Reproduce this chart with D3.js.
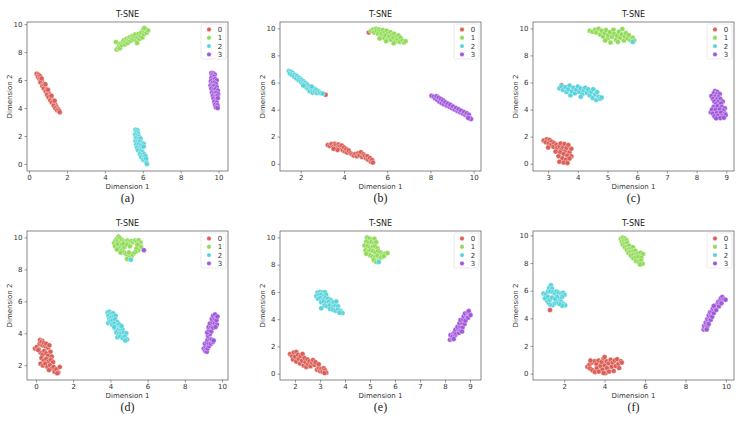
<!DOCTYPE html>
<html>
<head>
<meta charset="utf-8">
<script src="https://d3js.org/d3.v7.min.js"></script>
<style>
  html, body { margin: 0; padding: 0; background: #fff; }
  svg { display: block; }
  .tick text { font-family: "DejaVu Sans", sans-serif; font-size: 7px; fill: #333; }
</style>
</head>
<body>
<div id="chart"></div>
<script>
// ---- data ----
const classNames = ["0", "1", "2", "3"];
const classColors = ["#db5f57", "#91db57", "#57d3db", "#a157db"];
const captions = ["(a)", "(b)", "(c)", "(d)", "(e)", "(f)"];

const xLimits = [[-0.11, 10.5], [1.04, 10.34], [2.49, 9.26], [-0.48, 10.32], [1.4, 9.44], [0.46, 10.4]];
const yLimits = [[-0.5, 10.15], [-0.54, 10.47], [-0.54, 10.47], [1.08, 10.4], [-0.46, 10.47], [-0.46, 10.32]];
const xTickVals = [[0, 2, 4, 6, 8, 10], [2, 4, 6, 8, 10], [3, 4, 5, 6, 7, 8, 9], [0, 2, 4, 6, 8, 10], [2, 3, 4, 5, 6, 7, 8, 9], [2, 4, 6, 8, 10]];
const yTickVals = [[0, 2, 4, 6, 8, 10], [0, 2, 4, 6, 8, 10], [0, 2, 4, 6, 8, 10], [2, 4, 6, 8, 10], [0, 2, 4, 6, 8, 10], [0, 2, 4, 6, 8, 10]];

// panel (a)
const pa0 = [[0.40,6.45],[0.50,6.38],[0.47,6.22],[0.58,6.28],[0.55,6.08],[0.63,6.00],[0.68,5.88],[0.60,5.85],[0.74,5.72],[0.70,5.58],[0.80,5.62],[0.85,5.45],[0.78,5.40],[0.92,5.32],[0.88,5.18],[0.98,5.10],[1.05,5.02],[0.95,4.95],[1.10,4.85],[1.03,4.78],[1.15,4.70],[1.22,4.62],[1.12,4.55],[1.28,4.50],[1.20,4.40],[1.33,4.35],[1.40,4.22],[1.30,4.18],[1.45,4.08],[1.38,4.00],[1.52,3.95],[1.48,3.85],[1.58,3.82],[1.62,3.70],[0.66,6.12],[0.86,5.70],[1.00,5.30],[1.18,4.88],[1.35,4.52]];
const pa1 = [[4.58,8.72],[4.62,8.18],[4.70,8.30],[4.75,8.45],[4.82,8.60],[4.80,8.28],[4.90,8.50],[4.95,8.70],[5.00,8.85],[5.05,8.55],[5.10,8.75],[5.15,8.95],[5.20,8.65],[5.25,8.88],[5.30,9.05],[5.35,8.80],[5.40,9.00],[5.45,9.15],[5.50,8.90],[5.55,9.10],[5.60,9.25],[5.65,8.85],[5.70,8.65],[5.72,9.05],[5.78,9.30],[5.82,8.95],[5.88,9.15],[5.92,9.40],[5.98,9.05],[6.02,9.60],[6.05,9.28],[6.10,9.48],[6.15,9.65],[6.20,9.38],[6.28,9.55],[6.08,9.72]];
const pa2 = [[5.62,2.45],[5.72,2.42],[5.66,2.28],[5.75,2.20],[5.60,2.10],[5.70,2.02],[5.80,1.95],[5.64,1.85],[5.76,1.78],[5.88,1.82],[5.62,1.62],[5.72,1.58],[5.84,1.62],[5.96,1.50],[6.05,1.45],[5.66,1.40],[5.78,1.38],[5.90,1.30],[5.70,1.18],[5.82,1.12],[5.95,1.15],[6.05,1.25],[5.75,0.98],[5.88,0.92],[5.98,0.85],[5.85,0.72],[5.96,0.65],[6.08,0.70],[5.92,0.50],[6.04,0.45],[6.15,0.55],[6.02,0.30],[6.12,0.25],[6.18,0.38],[6.20,0.10],[6.22,0.00]];
const pa3 = [[9.62,6.50],[9.72,6.48],[9.80,6.40],[9.66,6.32],[9.76,6.25],[9.62,6.15],[9.70,6.05],[9.82,6.08],[9.90,5.98],[9.60,5.92],[9.68,5.80],[9.78,5.82],[9.86,5.72],[9.58,5.62],[9.66,5.52],[9.76,5.58],[9.90,5.50],[9.62,5.38],[9.72,5.30],[9.84,5.35],[9.96,5.25],[9.66,5.12],[9.76,5.05],[9.88,5.10],[9.98,5.00],[9.70,4.88],[9.82,4.82],[9.94,4.85],[9.74,4.68],[9.86,4.62],[9.96,4.70],[9.78,4.45],[9.90,4.40],[9.82,4.25],[9.94,4.20],[9.86,4.05],[9.95,4.00]];

// panel (b)
const pb0 = [[3.25,1.38],[3.35,1.30],[3.42,1.45],[3.50,1.25],[3.58,1.48],[3.62,1.35],[3.68,1.18],[3.75,1.42],[3.80,1.28],[3.85,1.10],[3.90,1.35],[3.95,1.00],[4.00,1.20],[4.05,0.90],[4.10,1.08],[4.15,0.82],[4.22,0.98],[4.30,0.78],[4.38,0.70],[4.45,0.60],[4.52,0.72],[4.60,0.55],[4.66,0.78],[4.72,0.62],[4.78,0.85],[4.84,0.50],[4.90,0.70],[4.96,0.58],[5.02,0.40],[5.08,0.55],[5.12,0.30],[5.20,0.42],[5.25,0.15],[5.30,0.28],[5.34,0.08],[3.70,1.02],[3.52,1.10],[3.15,5.10],[5.15,9.70]];
const pb1 = [[5.25,9.80],[5.35,9.92],[5.40,9.70],[5.48,9.98],[5.52,9.82],[5.58,9.60],[5.62,9.92],[5.68,9.75],[5.72,9.45],[5.75,9.62],[5.80,9.88],[5.85,9.30],[5.88,9.70],[5.92,9.50],[5.98,9.82],[6.02,9.20],[6.05,9.62],[6.10,9.40],[6.15,9.72],[6.18,9.15],[6.22,9.52],[6.28,9.32],[6.32,9.60],[6.38,9.05],[6.42,9.40],[6.48,9.20],[6.52,9.48],[6.58,9.00],[6.62,9.30],[6.70,9.10],[6.78,8.95],[6.85,9.05],[5.65,9.25],[5.95,9.05],[6.30,8.90]];
const pb2 = [[1.45,6.85],[1.55,6.80],[1.50,6.65],[1.62,6.70],[1.60,6.55],[1.72,6.58],[1.70,6.42],[1.82,6.48],[1.80,6.30],[1.92,6.35],[1.90,6.18],[2.02,6.22],[2.00,6.05],[2.12,6.10],[2.08,5.92],[2.20,5.98],[2.18,5.80],[2.30,5.85],[2.26,5.65],[2.38,5.72],[2.35,5.50],[2.45,5.58],[2.42,5.35],[2.52,5.42],[2.55,5.25],[2.62,5.55],[2.65,5.32],[2.72,5.45],[2.75,5.22],[2.82,5.35],[2.88,5.25],[2.95,5.20],[3.02,5.18],[2.50,5.70],[2.12,5.78]];
const pb3 = [[8.05,5.02],[8.15,4.95],[8.22,4.82],[8.28,4.98],[8.32,4.70],[8.38,4.88],[8.42,4.58],[8.48,4.78],[8.52,4.48],[8.58,4.68],[8.62,4.40],[8.68,4.55],[8.75,4.30],[8.80,4.45],[8.88,4.20],[8.92,4.35],[9.00,4.10],[9.05,4.22],[9.12,4.00],[9.18,4.12],[9.25,3.90],[9.30,4.02],[9.38,3.80],[9.42,3.92],[9.50,3.70],[9.55,3.82],[9.62,3.60],[9.68,3.72],[9.72,3.50],[9.78,3.62],[9.82,3.40],[9.88,3.30],[9.75,3.38]];

// panel (c)
const pc0 = [[2.85,1.72],[2.95,1.80],[2.92,1.58],[3.05,1.75],[3.02,1.50],[3.12,1.62],[3.10,1.38],[3.20,1.52],[3.18,1.25],[3.28,1.40],[3.30,1.15],[3.38,1.30],[3.42,1.50],[3.45,1.05],[3.50,1.25],[3.55,1.45],[3.58,0.95],[3.62,1.18],[3.68,1.38],[3.72,0.85],[3.78,1.10],[3.40,0.85],[3.52,0.72],[3.65,0.60],[3.78,0.55],[3.35,0.55],[3.48,0.40],[3.60,0.30],[3.72,0.38],[3.38,0.15],[3.52,0.08],[3.65,0.05],[3.25,0.90],[3.00,1.20],[3.45,5.80]];
const pc1 = [[4.40,9.82],[4.50,9.75],[4.58,9.90],[4.62,9.70],[4.70,9.98],[4.75,9.55],[4.80,9.82],[4.85,9.40],[4.90,9.65],[4.95,9.88],[5.00,9.25],[5.02,9.50],[5.08,9.72],[5.10,8.95],[5.15,9.38],[5.20,9.90],[5.22,9.60],[5.28,9.15],[5.32,9.45],[5.38,9.75],[5.42,9.30],[5.48,9.55],[5.50,9.95],[5.55,9.10],[5.58,9.40],[5.62,9.65],[5.68,9.25],[5.72,9.50],[5.78,9.12],[5.85,9.30],[5.90,9.10],[4.92,9.10],[5.35,9.00]];
const pc2 = [[3.38,5.58],[3.45,5.72],[3.50,5.45],[3.58,5.65],[3.62,5.30],[3.68,5.50],[3.72,5.78],[3.75,5.05],[3.80,5.35],[3.85,5.62],[3.90,5.20],[3.95,5.48],[4.00,5.70],[4.05,5.30],[4.10,5.55],[4.15,5.15],[4.20,5.42],[4.25,5.62],[4.30,5.25],[4.35,5.50],[4.40,5.05],[4.45,5.32],[4.50,4.85],[4.52,5.50],[4.58,5.12],[4.62,4.70],[4.65,5.30],[4.70,4.95],[4.75,4.80],[4.80,4.90],[4.10,4.95],[5.85,9.00]];
const pc3 = [[8.62,5.38],[8.70,5.30],[8.58,5.20],[8.68,5.12],[8.78,5.15],[8.50,5.00],[8.62,4.95],[8.74,4.92],[8.55,4.80],[8.68,4.75],[8.80,4.78],[8.88,4.60],[8.60,4.60],[8.72,4.55],[8.82,4.45],[8.65,4.40],[8.48,3.80],[8.58,4.20],[8.70,4.25],[8.85,4.20],[8.95,4.10],[8.52,4.00],[8.64,3.98],[8.78,4.02],[8.90,3.92],[8.55,3.70],[8.68,3.75],[8.82,3.78],[8.96,3.70],[8.60,3.50],[8.72,3.55],[8.86,3.52],[8.98,3.60],[8.66,3.35],[8.80,3.38],[8.92,3.40]];

// panel (d)
const pd0 = [[-0.05,3.05],[0.05,3.15],[0.15,3.00],[0.20,3.35],[0.22,3.58],[0.35,3.52],[0.28,3.45],[0.35,3.25],[0.42,3.40],[0.50,3.20],[0.55,3.35],[0.65,3.10],[0.72,3.25],[0.25,2.80],[0.35,2.65],[0.45,2.90],[0.55,2.75],[0.65,2.60],[0.78,2.85],[0.85,2.55],[0.30,2.45],[0.42,2.30],[0.55,2.40],[0.68,2.25],[0.80,2.35],[0.92,2.20],[0.25,2.10],[0.38,1.98],[0.50,2.10],[0.62,1.90],[0.75,2.00],[0.85,1.80],[0.95,1.90],[0.70,1.70],[1.00,1.60],[1.10,1.75],[1.20,1.55],[1.28,1.90],[1.15,1.50],[0.12,2.95]];
const pd1 = [[4.20,9.65],[4.28,9.80],[4.25,9.45],[4.35,9.92],[4.44,10.05],[4.42,9.80],[4.52,9.95],[4.55,9.70],[4.62,9.85],[4.72,9.75],[4.82,9.70],[4.92,9.80],[5.02,9.72],[5.12,9.78],[5.22,9.70],[5.32,9.80],[5.42,9.75],[5.52,9.82],[5.62,9.68],[5.55,9.50],[5.65,9.40],[5.50,9.20],[5.40,9.30],[5.35,9.10],[5.25,9.00],[5.15,8.85],[5.05,8.70],[4.95,8.80],[4.85,8.95],[4.75,9.05],[4.65,9.15],[4.55,9.30],[4.45,9.40],[4.35,9.25],[4.40,9.58],[4.60,9.55],[4.75,9.40],[4.70,9.60],[4.90,9.55],[5.05,9.45],[4.55,9.05],[5.45,9.55],[5.00,9.05],[4.90,8.65]];
const pd2 = [[3.85,5.30],[3.95,5.35],[3.90,5.10],[4.05,5.22],[4.15,5.25],[3.95,4.90],[4.05,5.00],[4.18,5.05],[4.28,5.10],[3.88,4.65],[4.00,4.75],[4.12,4.82],[4.25,4.88],[4.38,4.70],[4.10,4.55],[4.22,4.60],[4.35,4.48],[4.48,4.55],[4.55,4.38],[4.25,4.30],[4.40,4.20],[4.52,4.15],[4.65,4.25],[4.32,4.05],[4.45,3.95],[4.58,4.00],[4.72,4.05],[4.85,4.00],[4.38,3.75],[4.52,3.80],[4.65,3.70],[4.78,3.80],[4.90,3.62],[4.80,3.55],[4.60,4.45],[4.20,4.40],[5.10,8.60]];
const pd3 = [[9.02,3.05],[9.10,2.90],[9.18,2.85],[9.12,3.18],[9.22,3.05],[9.30,3.20],[9.08,3.35],[9.18,3.45],[9.28,3.38],[9.40,3.35],[9.50,3.45],[9.22,3.62],[9.32,3.70],[9.45,3.60],[9.25,3.85],[9.35,3.95],[9.20,4.05],[9.30,4.20],[9.42,4.12],[9.28,4.40],[9.40,4.45],[9.52,4.35],[9.35,4.62],[9.48,4.70],[9.60,4.62],[9.72,4.55],[9.45,4.90],[9.58,4.95],[9.70,4.82],[9.52,5.10],[9.62,5.18],[9.75,5.05],[9.65,4.40],[9.55,3.55],[5.80,9.20]];

// panel (e)
const pe0 = [[1.80,1.45],[1.88,1.30],[1.95,1.55],[1.92,1.05],[2.00,1.25],[2.05,1.60],[2.05,0.90],[2.12,1.40],[2.15,1.10],[2.20,0.75],[2.22,1.30],[2.28,0.95],[2.30,1.45],[2.35,0.60],[2.38,1.15],[2.42,0.85],[2.45,0.50],[2.50,1.05],[2.52,0.70],[2.58,0.90],[2.62,0.55],[2.68,0.80],[2.72,1.00],[2.78,0.65],[2.82,0.85],[2.88,0.30],[2.95,0.45],[3.00,0.20],[3.05,0.35],[3.10,0.15],[3.15,0.40],[3.20,0.25],[3.25,0.08],[3.18,0.05],[2.95,0.70]];
const pe1 = [[4.88,10.00],[4.98,9.92],[5.08,9.85],[5.18,9.90],[4.85,9.70],[4.95,9.60],[5.05,9.65],[5.15,9.55],[5.25,9.65],[4.78,9.40],[4.90,9.35],[5.00,9.25],[5.10,9.30],[5.20,9.35],[5.30,9.20],[4.82,9.05],[4.92,8.95],[5.02,9.05],[5.12,9.00],[5.22,8.90],[5.32,9.00],[5.42,8.90],[5.50,8.75],[5.60,8.80],[5.70,8.85],[5.00,8.70],[5.10,8.60],[5.20,8.55],[5.30,8.65],[5.40,8.50],[5.15,8.35],[5.25,8.20],[5.35,8.30],[5.45,8.55],[5.55,8.62],[4.85,8.80]];
const pe2 = [[2.90,5.95],[3.00,6.00],[3.10,5.95],[3.20,5.98],[2.85,5.70],[2.95,5.75],[3.05,5.80],[3.15,5.72],[3.25,5.78],[2.92,5.50],[3.02,5.55],[3.12,5.45],[3.22,5.55],[3.32,5.50],[3.42,5.40],[3.05,5.25],[3.15,5.30],[3.25,5.20],[3.35,5.28],[3.45,5.15],[3.55,5.25],[3.18,5.00],[3.28,4.95],[3.38,5.00],[3.50,4.90],[3.62,5.00],[3.72,4.95],[3.40,4.75],[3.52,4.70],[3.62,4.62],[3.72,4.72],[3.82,4.60],[3.90,4.45],[3.78,4.48],[3.05,4.80],[3.65,5.30],[5.35,8.20]];
const pe3 = [[8.20,2.50],[8.28,2.60],[8.22,2.85],[8.32,2.90],[8.30,2.72],[8.40,2.80],[8.38,3.05],[8.48,3.10],[8.45,2.95],[8.55,3.00],[8.42,3.25],[8.52,3.30],[8.62,3.20],[8.50,3.45],[8.60,3.50],[8.70,3.40],[8.58,3.70],[8.68,3.75],[8.78,3.65],[8.62,3.95],[8.72,4.00],[8.82,3.90],[8.75,4.20],[8.85,4.25],[8.92,4.10],[8.80,4.42],[8.90,4.50],[8.98,4.40],[8.95,4.60],[9.02,4.30],[8.68,3.10],[8.35,2.55]];

// panel (f)
const pf0 = [[3.15,0.50],[3.25,0.65],[3.28,0.38],[3.38,0.80],[3.40,0.25],[3.50,0.90],[3.52,0.12],[3.60,0.70],[3.62,0.40],[3.70,0.95],[3.72,0.15],[3.80,0.55],[3.85,0.85],[3.90,0.30],[3.95,1.10],[4.00,0.60],[4.05,0.05],[4.10,0.90],[4.12,0.40],[4.20,0.75],[4.22,0.15],[4.30,1.00],[4.35,0.50],[4.40,0.80],[4.45,0.20],[4.50,0.95],[4.55,0.55],[4.62,1.05],[4.68,0.70],[4.72,0.40],[4.80,0.90],[4.85,0.80],[3.30,0.95],[4.00,1.20],[3.95,0.05],[1.30,4.60]];
const pf1 = [[4.80,9.75],[4.90,9.85],[5.00,9.78],[4.85,9.55],[4.95,9.60],[5.08,9.65],[4.90,9.35],[5.02,9.40],[5.12,9.45],[5.00,9.15],[5.12,9.20],[5.22,9.25],[5.10,8.95],[5.22,9.00],[5.32,9.05],[5.40,9.15],[5.18,8.75],[5.30,8.80],[5.42,8.85],[5.52,8.90],[5.30,8.55],[5.42,8.60],[5.55,8.65],[5.65,8.70],[5.78,8.75],[5.90,8.65],[5.42,8.35],[5.55,8.40],[5.68,8.45],[5.82,8.40],[5.55,8.15],[5.68,8.10],[5.80,8.20],[5.88,7.95],[5.75,7.90]];
const pf2 = [[0.98,5.80],[1.10,5.75],[1.20,5.95],[1.25,6.20],[1.35,6.40],[1.40,6.15],[1.32,5.95],[1.45,5.90],[1.55,5.80],[1.62,5.95],[1.72,5.85],[1.85,5.80],[1.95,5.85],[2.02,5.70],[1.90,5.55],[1.80,5.40],[1.72,5.25],[1.85,5.20],[1.95,5.05],[2.05,4.95],[1.90,4.92],[1.75,5.05],[1.60,5.15],[1.50,5.05],[1.42,4.95],[1.30,5.00],[1.22,5.15],[1.15,5.30],[1.05,5.45],[1.20,5.55],[1.30,5.35],[1.65,5.55],[1.40,5.50],[1.55,5.40]];
const pf3 = [[8.90,3.20],[8.98,3.30],[8.92,3.45],[9.02,3.50],[9.08,3.40],[9.00,3.70],[9.10,3.75],[9.15,3.60],[9.08,3.95],[9.18,4.00],[9.25,3.90],[9.15,4.20],[9.25,4.25],[9.32,4.12],[9.22,4.45],[9.32,4.50],[9.40,4.38],[9.35,4.70],[9.45,4.75],[9.52,4.60],[9.48,4.95],[9.58,5.00],[9.65,4.88],[9.62,5.20],[9.72,5.25],[9.78,5.10],[9.75,5.45],[9.82,5.55],[9.90,5.38],[9.98,5.35],[9.05,3.20],[9.40,4.90]];

const panelData = [[pa0, pa1, pa2, pa3], [pb0, pb1, pb2, pb3], [pc0, pc1, pc2, pc3], [pd0, pd1, pd2, pd3], [pe0, pe1, pe2, pe3], [pf0, pf1, pf2, pf3]];

// ---- layout ----
const W = 742, H = 428;
const colLeft = [27, 280, 533];
const rowTop = [22, 231];
const axW = 201, axH = 149;

const svg = d3.select("#chart").append("svg")
  .attr("width", W).attr("height", H)
  .attr("viewBox", [0, 0, W, H]);

panelData.forEach((clusters, i) => {
  const left = colLeft[i % 3], top = rowTop[Math.floor(i / 3)];
  const g = svg.append("g").attr("transform", `translate(${left},${top})`);

  const x = d3.scaleLinear().domain(xLimits[i]).range([0, axW]);
  const y = d3.scaleLinear().domain(yLimits[i]).range([axH, 0]);

  // points
  clusters.forEach((pts, k) => {
    g.append("g").selectAll("circle")
      .data(pts)
      .join("circle")
      .attr("cx", d => x(d[0]))
      .attr("cy", d => y(d[1]))
      .attr("r", 2.5)
      .attr("fill", classColors[k])
      .attr("stroke", "#fff")
      .attr("stroke-width", 0.35);
  });

  // axes
  const ax = g.append("g")
    .attr("transform", `translate(0,${axH})`)
    .call(d3.axisBottom(x).tickValues(xTickVals[i]).tickFormat(d3.format("d")).tickSize(2.5).tickPadding(2));
  const ay = g.append("g")
    .call(d3.axisLeft(y).tickValues(yTickVals[i]).tickFormat(d3.format("d")).tickSize(2.5).tickPadding(2));
  [ax, ay].forEach(a => {
    a.select(".domain").remove();
    a.selectAll(".tick line").attr("stroke", "#555").attr("stroke-width", 0.6);
  });

  // frame
  g.append("rect")
    .attr("width", axW).attr("height", axH)
    .attr("fill", "none").attr("stroke", "#555").attr("stroke-width", 0.7);

  // labels
  g.append("text")
    .attr("x", axW / 2).attr("y", -5)
    .attr("text-anchor", "middle")
    .style("font-family", "DejaVu Sans, sans-serif").style("font-size", "8px").attr("fill", "#222")
    .text("T-SNE");
  g.append("text")
    .attr("x", axW / 2).attr("y", axH + 18)
    .attr("text-anchor", "middle")
    .style("font-family", "DejaVu Sans, sans-serif").style("font-size", "7px").attr("fill", "#333")
    .text("Dimension 1");
  g.append("text")
    .attr("transform", `translate(-15,${axH / 2}) rotate(-90)`)
    .attr("text-anchor", "middle")
    .style("font-family", "DejaVu Sans, sans-serif").style("font-size", "7px").attr("fill", "#333")
    .text("Dimension 2");
  g.append("text")
    .attr("x", axW / 2).attr("y", axH + 31)
    .attr("text-anchor", "middle")
    .style("font-family", "Liberation Serif, serif").style("font-size", "12px").attr("fill", "#222")
    .text(captions[i]);

  // legend
  const lg = g.append("g").attr("transform", `translate(${axW - 27},2)`);
  lg.append("rect")
    .attr("width", 25).attr("height", 35).attr("rx", 1.5)
    .attr("fill", "#fff").attr("stroke", "#ddd").attr("stroke-width", 0.6);
  classNames.forEach((c, k) => {
    lg.append("circle")
      .attr("cx", 8).attr("cy", 5.5 + k * 8.3).attr("r", 2.2)
      .attr("fill", classColors[k]).attr("stroke", "#fff").attr("stroke-width", 0.3);
    lg.append("text")
      .attr("x", 19).attr("y", 5.5 + k * 8.3).attr("dy", "0.35em")
      .attr("text-anchor", "middle")
      .style("font-family", "DejaVu Sans, sans-serif").style("font-size", "7px").attr("fill", "#333")
      .text(c);
  });
});
</script>
</body>
</html>
